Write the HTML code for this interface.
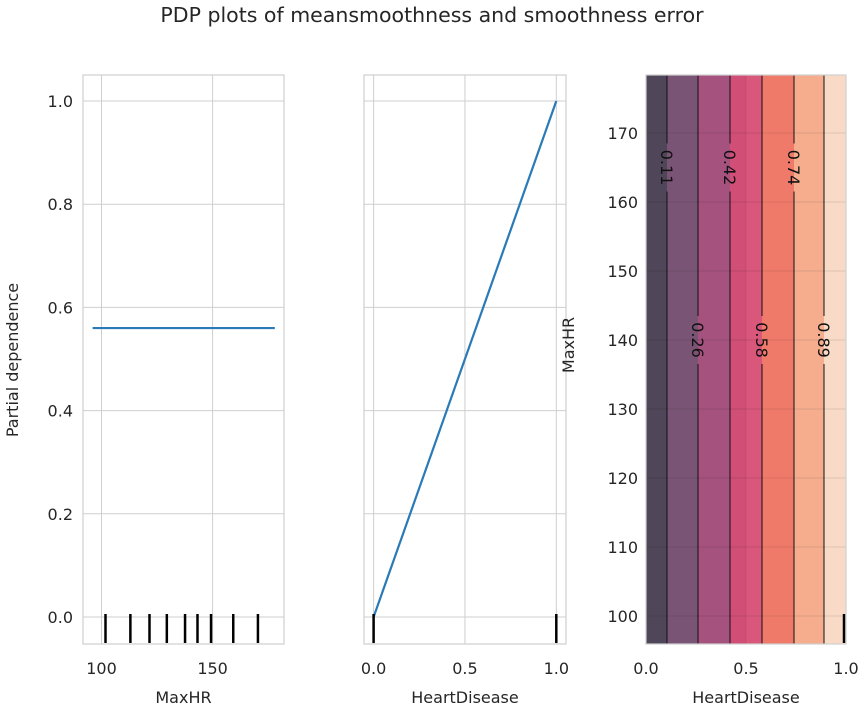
<!DOCTYPE html>
<html><head><meta charset="utf-8"><style>
body{margin:0;background:#fff;}
svg{display:block;font-family:"DejaVu Sans","Liberation Sans",sans-serif;}
</style></head><body>
<svg id="chart" width="864" height="709" viewBox="0 0 864 709">
<text x="432" y="22" text-anchor="middle" font-size="20.5" fill="#262626">PDP plots of meansmoothness and smoothness error</text>
<g id="p1"></g>
<g id="p2"></g>
<g id="p3"></g>
</svg>
<script>
// data
const yTicks = [0, 0.2, 0.4, 0.6, 0.8, 1.0];
const yTickLabels = ["0.0","0.2","0.4","0.6","0.8","1.0"];
const maxhrTicks = [100, 150];
const maxhrLine = [[96, 0.56], [178, 0.56]];
const maxhrRug = [101.8, 113, 121.6, 129.4, 137.6, 143.2, 149.3, 159.3, 170.4];
const hdTicks = [0, 0.5, 1.0];
const hdTickLabels = ["0.0","0.5","1.0"];
const hdLine = [[0, 0], [1, 1]];
const hdRug = [0, 1];
const contourYTicks = [100,110,120,130,140,150,160,170];
const fillBounds = [0, 0.105, 0.26, 0.42, 0.5, 0.58, 0.74, 0.89, 1];
const fillColors = ["#4f4759","#7a5475","#a5527f","#d14f77","#d8577a","#f07a6a","#f5ad8e","#f8dac6"];
const lineLevels = [0.105, 0.26, 0.42, 0.58, 0.74, 0.89];
const lineLabels = ["0.11","0.26","0.42","0.58","0.74","0.89"];
const labelY = [165, 140, 165, 140, 165, 140];

const NS = "http://www.w3.org/2000/svg";
function mk(parent, tag, attrs, text){
  const e = document.createElementNS(NS, tag);
  for (const k in attrs) e.setAttribute(k, attrs[k]);
  if (text !== undefined) e.textContent = text;
  parent.appendChild(e); return e;
}
const TOP = 75, BOT = 644;
const GRID = "#cfcfcf", TXT = "#262626";
function lin(d0, d1, r0, r1){ return v => r0 + (v - d0) / (d1 - d0) * (r1 - r0); }
const yPd = lin(0, 1, 617, 101);

// Panel 1
(function(){
  const g = document.getElementById("p1");
  const L = 83, R = 284;
  const x = lin(100, 150, 101.5, 212.6);
  yTicks.forEach((t,i)=>{
    const gl = mk(g,"line",{x1:L,x2:R,y1:yPd(t),y2:yPd(t),stroke:GRID,"stroke-width":1});
    
    
    const tl = mk(g,"text",{x:L-10,y:yPd(t)+6,"text-anchor":"end","font-size":16,fill:TXT}, yTickLabels[i]);
    
    
  });
  maxhrTicks.forEach(t=>{
    const gl = mk(g,"line",{x1:x(t),x2:x(t),y1:TOP,y2:BOT,stroke:GRID,"stroke-width":1});
    
    
    const tl = mk(g,"text",{x:x(t),y:674,"text-anchor":"middle","font-size":16,fill:TXT}, String(t));
    
    
  });
  const fr = mk(g,"rect",{x:L,y:TOP,width:R-L,height:BOT-TOP,fill:"none",stroke:GRID,"stroke-width":1.2});
  
  
  const ln = mk(g,"line",{x1:x(maxhrLine[0][0]),y1:yPd(maxhrLine[0][1]),x2:x(maxhrLine[1][0]),y2:yPd(maxhrLine[1][1]),stroke:"#2a7ab8","stroke-width":2.2});
  
  
  maxhrRug.forEach(v=>{
    const r = mk(g,"line",{x1:x(v),x2:x(v),y1:614,y2:643,stroke:"#000","stroke-width":2.5});
    
    
  });
  const xl = mk(g,"text",{x:(L+R)/2,y:703,"text-anchor":"middle","font-size":16,fill:TXT},"MaxHR");
  
  
  const yl = mk(g,"text",{x:0,y:0,"text-anchor":"middle","font-size":16,fill:TXT,transform:"translate(18,360) rotate(-90)"},"Partial dependence");
  
  
})();

// Panel 2
(function(){
  const g = document.getElementById("p2");
  const L = 364, R = 566;
  const x = lin(0, 1, 373.6, 556.3);
  yTicks.forEach(t=>{
    const gl = mk(g,"line",{x1:L,x2:R,y1:yPd(t),y2:yPd(t),stroke:GRID,"stroke-width":1});
    
    
  });
  hdTicks.forEach((t,i)=>{
    const gl = mk(g,"line",{x1:x(t),x2:x(t),y1:TOP,y2:BOT,stroke:GRID,"stroke-width":1});
    
    
    const tl = mk(g,"text",{x:x(t),y:674,"text-anchor":"middle","font-size":16,fill:TXT}, hdTickLabels[i]);
    
    
  });
  const fr = mk(g,"rect",{x:L,y:TOP,width:R-L,height:BOT-TOP,fill:"none",stroke:GRID,"stroke-width":1.2});
  
  
  const ln = mk(g,"line",{x1:x(hdLine[0][0]),y1:yPd(hdLine[0][1]),x2:x(hdLine[1][0]),y2:yPd(hdLine[1][1]),stroke:"#2a7ab8","stroke-width":2.2});
  
  
  hdRug.forEach(v=>{
    const r = mk(g,"line",{x1:x(v),x2:x(v),y1:614,y2:643,stroke:"#000","stroke-width":2.5});
    
    
  });
  const xl = mk(g,"text",{x:(L+R)/2,y:703,"text-anchor":"middle","font-size":16,fill:TXT},"HeartDisease");
  
  
})();

// Panel 3
(function(){
  const g = document.getElementById("p3");
  const L = 646, R = 846;
  const x = lin(0, 1, L, R);
  const y = lin(100, 170, 616, 133);
  for (let i=0;i<fillColors.length;i++){
    const b = mk(g,"rect",{x:x(fillBounds[i]),y:TOP,width:x(fillBounds[i+1])-x(fillBounds[i]),height:BOT-TOP,fill:fillColors[i]});
    
    
  }
  contourYTicks.forEach(t=>{
    const gl = mk(g,"line",{x1:L,x2:R,y1:y(t),y2:y(t),stroke:"#000","stroke-opacity":0.1,"stroke-width":1});
    
    
    const tl = mk(g,"text",{x:L-8,y:y(t)+6,"text-anchor":"end","font-size":16,fill:TXT}, String(t));
    
    
  });
  [0.5].forEach(t=>{
    const gl = mk(g,"line",{x1:x(t),x2:x(t),y1:TOP,y2:BOT,stroke:"#000","stroke-opacity":0.08,"stroke-width":1});
    
    
  });
  lineLevels.forEach((v,i)=>{
    const ly = y(labelY[i]);
    const a = mk(g,"line",{x1:x(v),x2:x(v),y1:TOP,y2:ly-24,stroke:"#111","stroke-width":1});
    
    
    const b = mk(g,"line",{x1:x(v),x2:x(v),y1:ly+24,y2:BOT,stroke:"#111","stroke-width":1});
    
    
    const t = mk(g,"text",{x:0,y:0,"text-anchor":"middle","font-size":16,fill:"#111",transform:`translate(${x(v)-6},${ly}) rotate(90)`}, lineLabels[i]);
    
    
  });
  [0,0.5,1].forEach((t,i)=>{
    const tl = mk(g,"text",{x:x(t),y:674,"text-anchor":"middle","font-size":16,fill:TXT}, hdTickLabels[i]);
    
    
  });
  const r = mk(g,"line",{x1:x(1)-2,x2:x(1)-2,y1:614,y2:643,stroke:"#000","stroke-width":2.5});
  
  
  const fr = mk(g,"rect",{x:L,y:TOP,width:R-L,height:BOT-TOP,fill:"none",stroke:GRID,"stroke-width":1.2});
  
  
  const xl = mk(g,"text",{x:(L+R)/2,y:703,"text-anchor":"middle","font-size":16,fill:TXT},"HeartDisease");
  
  
  const yl = mk(g,"text",{x:0,y:0,"text-anchor":"middle","font-size":16,fill:TXT,transform:"translate(574,345) rotate(-90)"},"MaxHR");
  
  
})();
</script>
</body></html>
